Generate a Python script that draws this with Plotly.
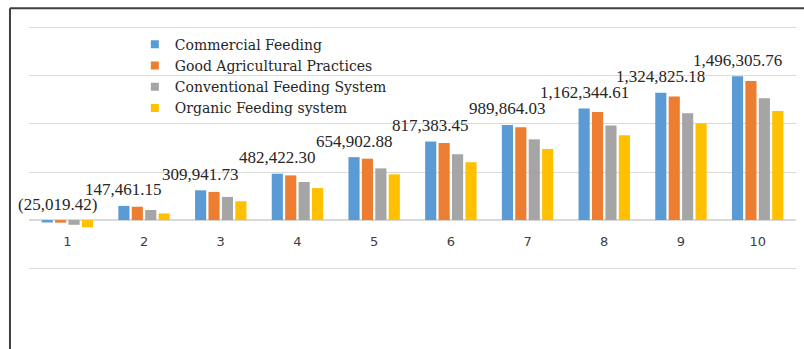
import plotly.graph_objects as go

categories = ["1", "2", "3", "4", "5", "6", "7", "8", "9", "10"]
commercial = [-25019.42, 147461.15, 309941.73, 482422.30, 654902.88,
              817383.45, 989864.03, 1162344.61, 1324825.18, 1496305.76]
good_agri = [-27000, 139000, 293000, 465000, 639000,
             802000, 965000, 1125000, 1285000, 1448000]
conventional = [-49000, 105000, 241000, 396000, 538000,
                684000, 840000, 983000, 1111000, 1268000]
organic = [-75000, 69000, 196000, 333000, 476000,
           602000, 740000, 882000, 1007000, 1135000]
label_texts = ["(25,019.42)", "147,461.15", "309,941.73", "482,422.30", "654,902.88",
               "817,383.45", "989,864.03", "1,162,344.61", "1,324,825.18", "1,496,305.76"]
grid_values = [-500000, 0, 500000, 1000000, 1500000, 2000000]

series = [
    ("Commercial Feeding", commercial, "#5B9BD5"),
    ("Good Agricultural Practices", good_agri, "#ED7D31"),
    ("Conventional Feeding System", conventional, "#A5A5A5"),
    ("Organic Feeding system", organic, "#FFC000"),
]

fig = go.Figure()
for name, vals, col in series:
    fig.add_trace(go.Bar(x=categories, y=vals, name=name, marker_color=col,
                         marker_line_width=0, showlegend=False))
# legend entries with small square symbols
for name, vals, col in series:
    fig.add_trace(go.Scatter(x=[None], y=[None], mode="markers", name=name,
                             marker=dict(symbol="square", size=8, color=col)))

BARGAP = 0.3
slot = (1 - BARGAP) / 4
for i, (v, t) in enumerate(zip(commercial, label_texts)):
    fig.add_annotation(x=i - 1.5 * slot, y=max(v, 0), text=t, showarrow=False,
                       xref="x", yref="y", yanchor="middle", yshift=16,
                       xshift=10 if i == 0 else 0,
                       font=dict(family="Liberation Serif, Georgia, serif", size=17, color="#262626"))

YMIN, YMAX = -530000, 2030000
zero_pos = (0 - YMIN) / (YMAX - YMIN)

border = dict(color="#404040", width=2)
fig.add_shape(type="line", xref="paper", yref="paper", x0=-0.0248, x1=1.02, y0=1.068, y1=1.068, line=border)
fig.add_shape(type="line", xref="paper", yref="paper", x0=-0.0248, x1=-0.0248, y0=1.068, y1=-0.34, line=border)

fig.update_layout(
    width=804, height=349,
    margin=dict(l=29, r=8, t=25, b=78),
    paper_bgcolor="white", plot_bgcolor="white",
    barmode="group", bargap=BARGAP, bargroupgap=0.17,
    legend=dict(x=0.138, y=0.985, xanchor="left", yanchor="top",
                font=dict(family="DejaVu Serif, Georgia, serif", size=14, color="#262626"),
                bgcolor="rgba(0,0,0,0)", tracegroupgap=0, itemwidth=30),
    xaxis=dict(type="category", range=[-0.5, 9.5], anchor="free", position=zero_pos,
               showline=False, showgrid=False,
               ticks="", ticklabelstandoff=12,
               tickfont=dict(family="DejaVu Sans, sans-serif", size=13, color="#404040")),
    yaxis=dict(range=[YMIN, YMAX], tickvals=grid_values,
               showticklabels=False,
               showgrid=True, gridcolor="#d9d9d9", gridwidth=1,
               zeroline=True, zerolinecolor="#d9d9d9", zerolinewidth=2),
)

fig.write_html("out.html")
